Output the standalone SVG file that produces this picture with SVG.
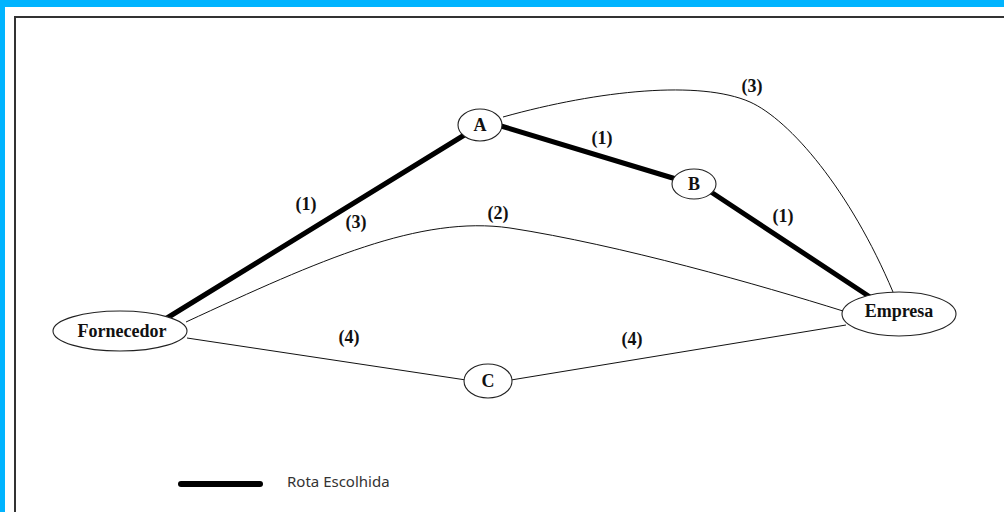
<svg xmlns="http://www.w3.org/2000/svg" width="1004" height="512" viewBox="0 0 1004 512">
<style>
.node{fill:#fff;stroke:#222;stroke-width:1.1}
.lbl{font-family:"Liberation Serif",serif;font-weight:bold;font-size:18px;fill:#111;text-anchor:middle}
.thin{fill:none;stroke:#111;stroke-width:1}
.thick{fill:none;stroke:#000;stroke-width:5;stroke-linecap:round}
</style>
<rect x="0" y="0" width="1004" height="512" fill="#fff"/>
<rect x="0" y="0" width="1004" height="7" fill="#00B4FF"/>
<rect x="0" y="0" width="5" height="512" fill="#00B4FF"/>
<path d="M15,512 V17 H1004" fill="none" stroke="#333" stroke-width="2"/>
<g id="connectors">
<path class="thin" d="M503,117 C600,90 700,80 750,102 C790,120 850,190 893,292"/>
<path class="thin" d="M186,322 C320,260 420,215 510,228 C620,245 760,285 843,311"/>
<path class="thin" d="M187,338 L466,380"/>
<path class="thin" d="M511,380 L846,325"/>
<path class="thick" d="M167,318 L466,134"/>
<path class="thick" d="M501,126 L676,179"/>
<path class="thick" d="M711,192 L870,297"/>
<text class="lbl" x="752" y="92">(3)</text>
<text class="lbl" x="602" y="144">(1)</text>
<text class="lbl" x="783" y="222">(1)</text>
<text class="lbl" x="306" y="210">(1)</text>
<text class="lbl" x="356" y="228">(3)</text>
<text class="lbl" x="498" y="219">(2)</text>
<text class="lbl" x="349" y="343">(4)</text>
<text class="lbl" x="632" y="345">(4)</text>
</g>
<g id="node-A"><ellipse class="node" cx="480" cy="125" rx="22" ry="16"/><text class="lbl" x="480" y="131">A</text></g>
<g id="node-B"><ellipse class="node" cx="694" cy="184" rx="22" ry="15"/><text class="lbl" x="694" y="190">B</text></g>
<g id="node-C"><ellipse class="node" cx="488" cy="381" rx="24" ry="17"/><text class="lbl" x="488" y="387">C</text></g>
<g id="node-Fornecedor"><ellipse class="node" cx="120" cy="331" rx="67" ry="20"/><text class="lbl" x="122" y="337">Fornecedor</text></g>
<g id="node-Empresa"><ellipse class="node" cx="899" cy="314" rx="57" ry="22"/><text class="lbl" x="899" y="317">Empresa</text></g>
<g id="legend">
<path d="M181,484 L260,484" stroke="#000" stroke-width="6" stroke-linecap="round"/>
<text x="287" y="487" font-family="Noto Sans, sans-serif" font-size="15" fill="#333">Rota Escolhida</text>
</g>
</svg>
